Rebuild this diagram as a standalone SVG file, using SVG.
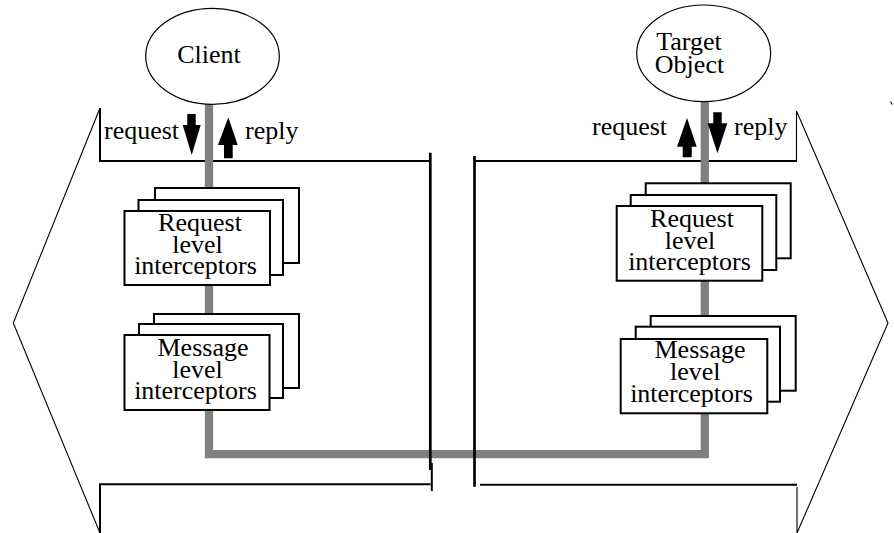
<svg xmlns="http://www.w3.org/2000/svg" width="894" height="533" viewBox="0 0 894 533">
<style>
.t{font-family:"Liberation Serif","Times New Roman",serif;font-size:26px;fill:#000}
.m{text-anchor:middle}
.box{fill:#fff;stroke:#000;stroke-width:2}
.ell{fill:#fff;stroke:#000;stroke-width:1.2}
.thick{fill:none;stroke:#000;stroke-width:2}
.thin{fill:none;stroke:#000;stroke-width:1.1}
.bar{fill:none;stroke:#000;stroke-width:2.7}
.pipe{fill:none;stroke:#808080;stroke-width:8.3}
.arr{fill:#000;stroke:none}
</style>
<rect width="894" height="533" fill="#fff"/>
<g id="boundaries">
<path class="thick" d="M100,108 V161 H430"/>
<path class="thick" d="M430.5,484.3 H100 V533"/>
<path class="thin" d="M100,108 L13.3,323 L100,533"/>
<path class="thick" d="M474.5,161 H797"/>
<path class="thick" d="M480,484.7 H797"/>
<path class="thin" d="M796.5,111 V161 M796.5,111 L888,323 L797,533 M797,487 V533"/>
<path class="thin" d="M890.6,101.8 L892.2,104.6"/>
</g>
<g id="connectors">
<path class="pipe" d="M209,104 V454.2 H704.8 V101.7"/>
<path class="arr" d="M187.3,114 H195.7 V125 H200.7 L191.7,155 L182.7,125 H187.3 Z"/>
<path class="arr" d="M228.3,117.3 L237.7,145 H232.7 V158.3 H224 V145 H218 Z"/>
<path class="arr" d="M687,118 L696.7,146.7 H691.7 V157.3 H682.7 V146.7 H677 Z"/>
<path class="arr" d="M713.3,112.3 H721.7 V123.3 H727.3 L717.5,153.3 L707.7,123.3 H713.3 Z"/>
</g>
<g id="separator">
<path class="bar" d="M430.3,152.7 V470"/>
<path class="thick" d="M431.8,463 V491"/>
<path class="bar" d="M474.5,156 V486.7"/>
</g>
<g id="client">
<ellipse class="ell" cx="212.5" cy="56.3" rx="66.8" ry="48"/>
<text class="t m" x="209" y="63">Client</text>
</g>
<g id="target">
<ellipse class="ell" cx="703.7" cy="53.3" rx="67" ry="48.3"/>
<text class="t m" x="689" y="50">Target<tspan x="689.5" dy="22.5">Object</tspan></text>
</g>
<g id="labels-left">
<text class="t" x="104" y="139">request</text>
<text class="t" x="245" y="139">reply</text>
</g>
<g id="labels-right">
<text class="t" x="592" y="135">request</text>
<text class="t" x="734" y="135">reply</text>
</g>
<g id="client-request-interceptors">
<rect class="box" x="155" y="188" width="144" height="75"/>
<rect class="box" x="138.5" y="200" width="144.5" height="75"/>
<rect class="box" x="124.5" y="211" width="145.5" height="74"/>
<text class="t m" x="200" y="231">Request<tspan x="197.5" dy="21.5">level</tspan><tspan x="195.5" dy="21.5">interceptors</tspan></text>
</g>
<g id="client-message-interceptors">
<rect class="box" x="154" y="314" width="145" height="74"/>
<rect class="box" x="139" y="324" width="144" height="74"/>
<rect class="box" x="124.5" y="335" width="145" height="75"/>
<text class="t m" x="203" y="356">Message<tspan x="197.5" dy="21.5">level</tspan><tspan x="195.5" dy="21.5">interceptors</tspan></text>
</g>
<g id="target-request-interceptors">
<rect class="box" x="645.7" y="183.3" width="145" height="75"/>
<rect class="box" x="630.7" y="195" width="145.6" height="75"/>
<rect class="box" x="616.7" y="206" width="145.6" height="74.7"/>
<text class="t m" x="692" y="227">Request<tspan x="690" dy="21.5">level</tspan><tspan x="689.5" dy="21.5">interceptors</tspan></text>
</g>
<g id="target-message-interceptors">
<rect class="box" x="650.7" y="316" width="145" height="74.7"/>
<rect class="box" x="635.7" y="326.7" width="144.3" height="75"/>
<rect class="box" x="620.7" y="339" width="146.6" height="74.3"/>
<text class="t m" x="700" y="358.3">Message<tspan x="695.3" dy="21.7">level</tspan><tspan x="691.5" dy="21.7">interceptors</tspan></text>
</g>
</svg>
